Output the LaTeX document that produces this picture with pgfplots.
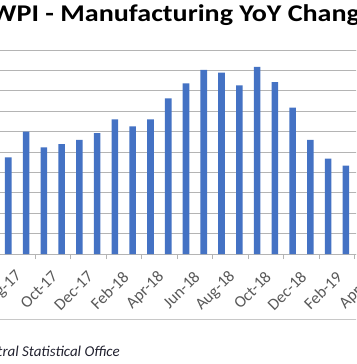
\documentclass[border=0pt]{standalone}
\usepackage{fontspec}
\setmainfont{Carlito}
\newfontfamily\titlefont[FakeStretch=1.17]{Carlito}
\usepackage{pgfplots}
\pgfplotsset{compat=1.18}
\definecolor{barblue}{HTML}{4472C4}
\definecolor{gridc}{HTML}{B4B4B4}
\definecolor{framec}{HTML}{C8C8C8}
\definecolor{lblc}{HTML}{595959}
\definecolor{srcc}{HTML}{222230}
\begin{document}
\begin{tikzpicture}
\useasboundingbox (0pt,0pt) rectangle (356pt,364pt);
\clip (0pt,0pt) rectangle (356pt,364pt);
\fill[white] (0pt,0pt) rectangle (356pt,364pt);
\node[anchor=base west, inner sep=0pt, font=\titlefont\bfseries\fontsize{24}{28}\selectfont] at (-9pt,342.3pt) {WPI - Manufacturing YoY Change};
\draw[framec, line width=0.8pt] (-10pt,45pt) -- (400pt,45pt);
\node[anchor=base east, inner sep=0pt, text=srcc, font=\itshape\fontsize{15}{18}\selectfont] at (120pt,7pt) {Source: Central Statistical Office};
\begin{axis}[
  at={(-0.585pt,110pt)}, anchor=south west,
  x=17.77pt, y=20.4pt,
  xmin=-0.5, xmax=21.5, ymin=0, ymax=10,
  ybar, bar width=6.6pt,
  axis line style={gridc, line width=0.8pt},
  ymajorgrids, grid style={gridc, line width=0.8pt},
  ytick={0,1,...,10}, yticklabels={},
  xtick={0,2,...,20},
  xticklabels={Aug-17,Oct-17,Dec-17,Feb-18,Apr-18,Jun-18,Aug-18,Oct-18,Dec-18,Feb-19,Apr-19},
  minor xtick={-0.5,1.5,...,21.5},
  major tick length=0pt, minor tick length=5pt,
  tick align=outside, xtick pos=bottom, ytick pos=left,
  minor tick style={gridc, line width=0.8pt},
  xticklabel style={rotate=45, anchor=east, xshift=-3pt, yshift=-22pt, text=lblc, font=\fontsize{16.5}{18}\selectfont},
]
\addplot[fill=barblue, draw=none] coordinates {
(0,4.74) (1,6.00) (2,5.23) (3,5.39) (4,5.59) (5,5.92) (6,6.60) (7,6.26) (8,6.60) (9,7.63)
(10,8.37) (11,9.03) (12,8.89) (13,8.27) (14,9.17) (15,8.43) (16,7.17) (17,5.59) (18,4.67) (19,4.33)
};
\end{axis}
\end{tikzpicture}
\end{document}
